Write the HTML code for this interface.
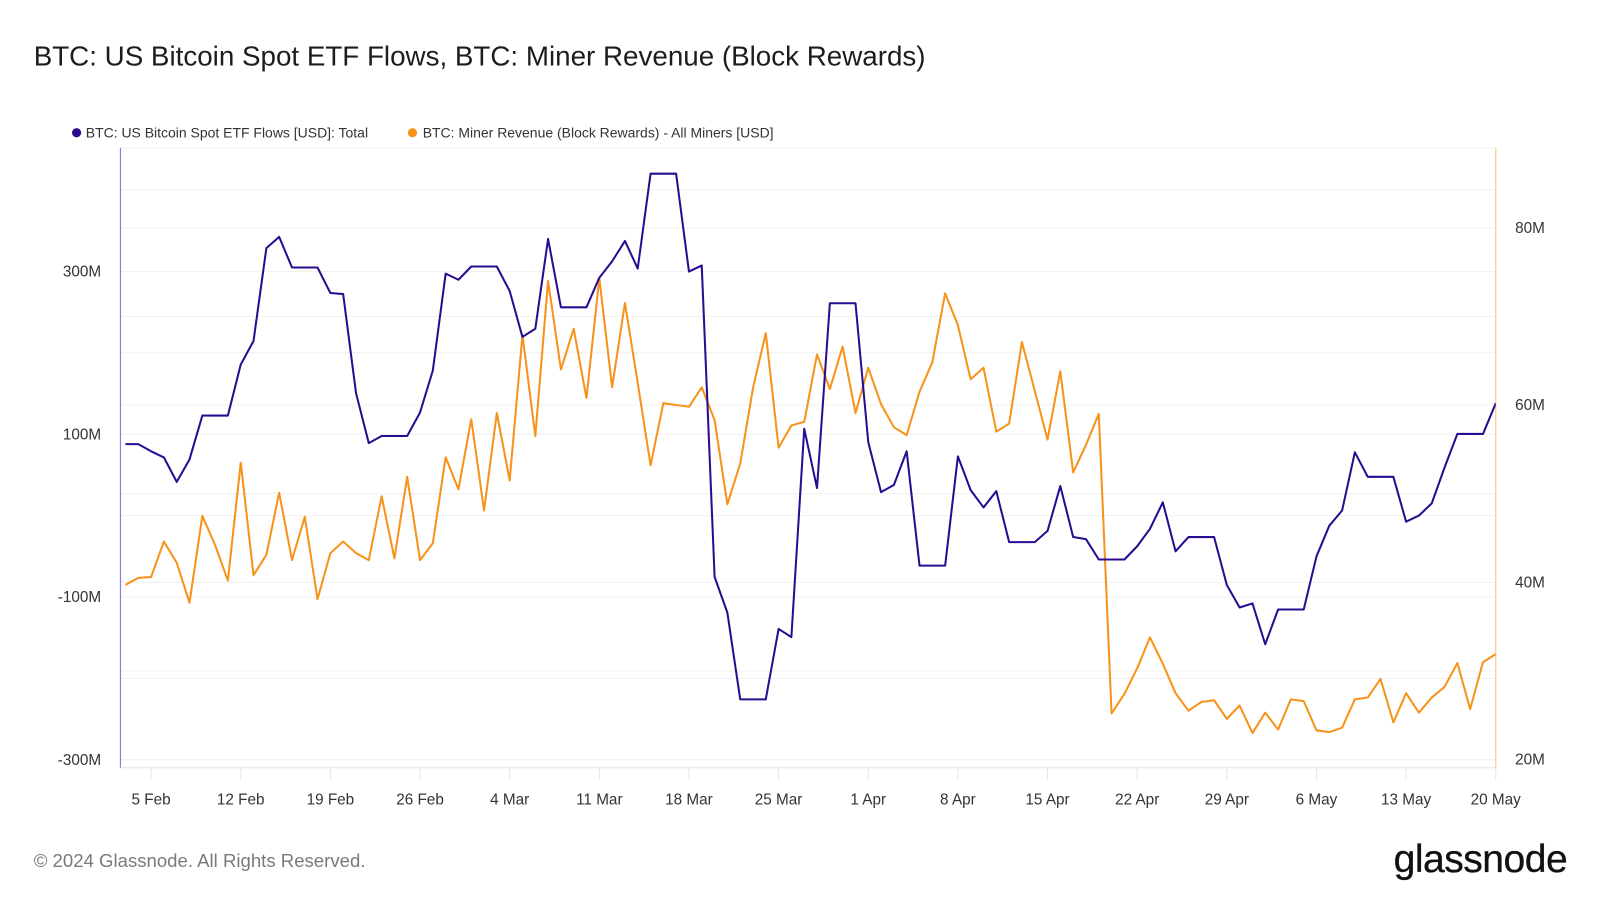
<!DOCTYPE html>
<html><head><meta charset="utf-8"><style>
body{margin:0;background:#fff;width:1600px;height:900px;overflow:hidden;font-family:"Liberation Sans",sans-serif}
</style></head><body>
<svg id="chart" width="1600" height="900" xmlns="http://www.w3.org/2000/svg" font-family="Liberation Sans, sans-serif">
<g transform="scale(1.021)">
<text x="33" y="64" font-size="27.2" fill="#1d1d1d">BTC: US Bitcoin Spot ETF Flows, BTC: Miner Revenue (Block Rewards)</text>
<g>
<g><circle cx="75" cy="130" r="4.5" fill="#2a0c91"/><text x="84" y="134.5" font-size="13.7" fill="#333">BTC: US Bitcoin Spot ETF Flows [USD]: Total</text></g>
<g><circle cx="404" cy="130" r="4.5" fill="#f7931a"/><text x="414" y="134.5" font-size="13.7" fill="#333">BTC: Miner Revenue (Block Rewards) - All Miners [USD]</text></g>
</g>
<g id="grid"></g>
<g id="axes"></g>
<g id="series"></g>
<text x="33" y="849" font-size="18.2" fill="#7a7a7a">© 2024 Glassnode. All Rights Reserved.</text>
<text x="1535" y="854" text-anchor="end" font-size="38.3" fill="#111" stroke="#111" stroke-width="0.3" letter-spacing="-0.5">glassnode</text>
</g>
</svg>
<script>
const etfFlows=[87.8,87.8,79,71.5,41.4,69,122.9,122.9,122.9,185.6,214.4,328.5,342.3,304.7,304.7,304.7,273.4,272.1,150.5,89,97.8,97.8,97.8,126.6,178,297.2,289.7,306,306,306,275.9,219.4,229.5,339.8,255.8,255.8,255.8,292.2,312.2,337.3,303.4,420,420,420,299.7,307.2,-75.2,-119.1,-225.7,-225.7,-225.7,-139.2,-149.2,106.6,33.9,260.8,260.8,260.8,90.3,28.8,37.6,79,-61.4,-61.4,-61.4,72.7,31.3,10,30.1,-32.6,-32.6,-32.6,-18.8,36.4,-26.3,-28.8,-53.9,-53.9,-53.9,-37.6,-16.3,16.3,-43.9,-26.3,-26.3,-26.3,-85.3,-112.9,-107.8,-158,-115.4,-115.4,-115.4,-50.2,-12.5,6.3,77.7,47.6,47.6,47.6,-7.5,0,15,58.9,100.3,100.3,100.3,137.9];
const minerRevenue=[39.7,40.5,40.6,44.6,42.2,37.7,47.5,44.2,40.2,53.5,40.8,43.1,50.1,42.5,47.4,38.1,43.3,44.6,43.3,42.5,49.7,42.7,51.9,42.5,44.4,54.1,50.5,58.4,48.1,59.1,51.5,67.9,56.5,74.0,64.0,68.6,60.8,74.3,62.0,71.5,62.5,53.2,60.2,60.0,59.8,62.0,58.3,48.8,53.4,61.9,68.1,55.2,57.7,58.1,65.7,61.8,66.6,59.1,64.2,60.1,57.5,56.6,61.5,64.8,72.6,69.0,62.9,64.2,57.0,57.9,67.1,61.6,56.1,63.8,52.4,55.5,59.0,25.2,27.4,30.3,33.8,30.8,27.5,25.5,26.5,26.7,24.6,26.1,23.0,25.3,23.4,26.8,26.6,23.3,23.1,23.6,26.8,27.0,29.1,24.2,27.5,25.3,27.0,28.2,30.9,25.7,31.0,31.9];
const xTickLabels=["5 Feb","12 Feb","19 Feb","26 Feb","4 Mar","11 Mar","18 Mar","25 Mar","1 Apr","8 Apr","15 Apr","22 Apr","29 Apr","6 May","13 May","20 May"];
const xTickIndex=[2,9,16,23,30,37,44,51,58,65,72,79,86,93,100,107];
const leftTicks=[-300,-100,100,300];
const leftGrid=[-300,-200,-100,0,100,200,300,400];
const rightTicks=[20,40,60,80];
const rightGrid=[20,30,40,50,60,70,80];

const NS="http://www.w3.org/2000/svg";
const L=118,R=1465,T=145,B=752;
const nPts=etfFlows.length;
function x(i){return R-(nPts-1-i)*12.543;}
function yL(v){return 505-v*0.7975;}
function yR(v){return 744-(v-20)*8.683;}
function mk(tag,attrs,parent){const e=document.createElementNS(NS,tag);for(const k in attrs)e.setAttribute(k,attrs[k]);parent.appendChild(e);return e;}
const grid=document.getElementById('grid'),axes=document.getElementById('axes'),series=document.getElementById('series');
mk('line',{x1:L,x2:R,y1:T,y2:T,stroke:'#f0f0f0'},grid);
leftGrid.forEach(v=>{const g=mk('line',{x1:L,x2:R,y1:yL(v),y2:yL(v),stroke:'#f1f1f1','stroke-width':1},grid);

});
rightGrid.forEach(v=>{const g=mk('line',{x1:L,x2:R,y1:yR(v),y2:yR(v),stroke:'#f1f1f1','stroke-width':1},grid);

});
mk('line',{x1:L,x2:R,y1:B,y2:B,stroke:'#e2e2e2'},axes);
const la=mk('line',{x1:L,x2:L,y1:T,y2:B,stroke:'#8f7fe0','stroke-width':1.2},axes);


const ra=mk('line',{x1:R,x2:R,y1:T,y2:B,stroke:'#f7c890','stroke-width':1.2},axes);


leftTicks.forEach(v=>{const t=mk('text',{x:99,y:yL(v)+5,'text-anchor':'end','font-size':15,fill:'#333'},axes);t.textContent=v+'M';

});
rightTicks.forEach(v=>{const t=mk('text',{x:1484,y:yR(v)+5,'font-size':15,fill:'#333'},axes);t.textContent=v+'M';

});
xTickLabels.forEach((s,k)=>{const xx=x(xTickIndex[k]);
mk('line',{x1:xx,x2:xx,y1:B,y2:B+12,stroke:'#e6e6e6'},axes);
const t=mk('text',{x:xx,y:788,'text-anchor':'middle','font-size':15,fill:'#333'},axes);t.textContent=s;

});
const cp=mk('clipPath',{id:'plotclip'},series);mk('rect',{x:L,y:T-20,width:R-L,height:B-T+20},cp);
const oPath=mk('path',{d:minerRevenue.map((v,i)=>(i?'L':'M')+x(i).toFixed(1)+','+yR(v).toFixed(1)).join(''),fill:'none',stroke:'#f7931a','stroke-width':2,'stroke-linejoin':'round','clip-path':'url(#plotclip)'},series);


const bPath=mk('path',{d:etfFlows.map((v,i)=>(i?'L':'M')+x(i).toFixed(1)+','+yL(v).toFixed(1)).join(''),fill:'none',stroke:'#2a0c91','stroke-width':2,'stroke-linejoin':'round','clip-path':'url(#plotclip)'},series);


</script>
</body></html>
